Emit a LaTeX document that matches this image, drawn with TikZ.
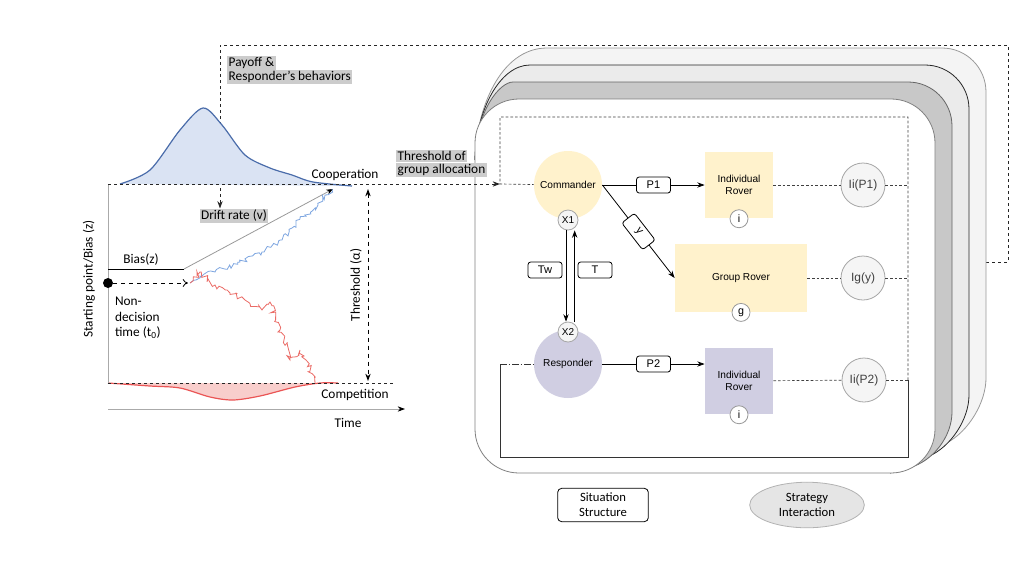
\documentclass[tikz,border=0pt]{standalone}
\usepackage{fontspec}
\setmainfont{Carlito}
\newfontfamily\helv{Liberation Sans}
\usepackage{tikz}
\usetikzlibrary{shapes,arrows.meta,positioning,calc,decorations.pathmorphing}
\definecolor{coopBlue}{RGB}{74,108,170}
\definecolor{coopFill}{RGB}{218,227,243}
\definecolor{compRed}{RGB}{234,85,85}
\definecolor{compFill}{RGB}{248,206,204}
\definecolor{walkBlue}{RGB}{126,166,224}
\definecolor{walkRed}{RGB}{234,107,102}
\definecolor{cmdYellow}{RGB}{255,242,204}
\definecolor{respPurple}{RGB}{208,206,226}
\definecolor{tagGray}{RGB}{204,204,204}
\definecolor{axisGray}{RGB}{170,170,170}
\definecolor{ballGray}{RGB}{245,245,245}
\definecolor{cardA}{RGB}{244,244,244}
\definecolor{cardB}{RGB}{235,235,235}
\definecolor{cardC}{RGB}{200,200,200}

\begin{document}
\begin{tikzpicture}[x=0.75pt, y=-0.75pt, line width=0.6pt,
    >={Stealth[length=5.5pt,width=4pt]},
    txt/.style={font=\fontsize{10}{12}\selectfont},
    tag/.style={fill=tagGray, inner sep=1pt, font=\fontsize{10}{12}\selectfont},
    agent/.style={circle, minimum size=51pt, inner sep=0pt,
      font=\helv\fontsize{7.6}{9}\selectfont},
    port/.style={circle, draw=gray!70, fill=ballGray, minimum size=15pt,
      inner sep=0pt, font=\helv\fontsize{7.5}{9}\selectfont},
    rover/.style={minimum width=51pt, minimum height=50pt, inner sep=0pt,
      align=center, font=\helv\fontsize{7.6}{9}\selectfont},
    kind/.style={circle, draw=gray!80, fill=white, minimum size=13.5pt,
      inner sep=0pt, font=\helv\fontsize{8}{9}\selectfont},
    payoff/.style={circle, draw=gray!70, fill=ballGray, minimum size=33pt,
      inner sep=0pt, text=black!75, font=\helv\fontsize{9}{10}\selectfont},
    edgelbl/.style={draw, fill=white, rounded corners=2pt, minimum width=25.5pt,
      minimum height=12pt, inner sep=0pt, font=\helv\fontsize{8.3}{9}\selectfont},
    fb/.style={dash pattern=on 2.5pt off 2pt, line width=0.7pt, black!85},
    fbfine/.style={dash pattern=on 2pt off 1.5pt, line width=0.5pt, black!75},
    walk/.style={decorate, decoration={random steps, segment length=2pt, amplitude=2.2pt}},
    card/.style={rounded corners=33pt, line width=0.6pt}
  ]
  \useasboundingbox (0,0) rectangle (1024,576);

  % Outer feedback loop (behind the cards)
  \coordinate (oe) at (908,262);
  \coordinate (oc1) at (1008,262);
  \coordinate (oc2) at (1008,45);
  \coordinate (po) at (220,45);
  \node[tag] (drift) at (234,216) {Drift rate (v)};
  \draw[fb, ->] (oe) -- (oc1) -- (oc2) -- (po) -- (drift.north -| po);
  \node[tag, anchor=west] (pay1) at (227,63) {Payoff \&};
  \node[tag, anchor=west] (pay2) at (227,77) {Responder’s behaviors};

  % Stacked cards
  \foreach \d/\f/\c in {51/cardA/gray!80, 34/cardB/black!85, 17/cardC/black!60}{
    \draw[card, fill=\f, draw=\c] (475,160) .. controls (476,110) and (500,99-\d)
      .. (540+\d,99-\d) -- (935+\d,99-\d) -- (935+\d,473-\d) -- (890,473);
  }
  \draw[card, fill=white, draw=gray] (475,99) rectangle (935,473);

  % Drift diffusion model (left)
  \fill[coopFill] plot[smooth] coordinates {(120,184) (150,170) (180,130) (203,108)
    (222,125) (245,155) (270,168) (292,175) (313,182) (352,186)} -- cycle;
  \draw[coopBlue, line width=0.9pt] plot[smooth] coordinates {(120,184) (150,170)
    (180,130) (203,108) (222,125) (245,155) (270,168) (292,175) (313,182) (352,186)};
  \fill[compFill] plot[smooth] coordinates {(108,383) (150,386) (180,388) (210,397)
    (233,400) (260,396) (295,387) (320,383) (338,383)} -- cycle;
  \draw[compRed, line width=0.9pt] plot[smooth] coordinates {(108,383) (150,386)
    (180,388) (210,397) (233,400) (260,396) (295,387) (320,383) (338,383)};

  \coordinate (up0) at (108,184);
  \coordinate (lo0) at (108,383);
  \coordinate (lo1) at (395,383);
  \coordinate (cin) at (500,184);
  \draw[axisGray] (up0) -- (lo0);
  \coordinate (ta0) at (108,409);
  \coordinate (ta1) at (405,409);
  \draw[axisGray, -{Stealth[black,length=5.5pt,width=4pt]}] (ta0) -- (ta1);
  \draw[fb] (lo0) -- (lo1);
  \draw[fb, ->] (up0) -- (cin);

  \coordinate (thrTop) at (368,189);
  \coordinate (thrBot) at (368,381);
  \draw[dashed, <->, line width=0.7pt] (thrTop) -- (thrBot);
  \node[txt, rotate=90] (thr) at (356,285) {Threshold (α)};
  \node[txt, rotate=90] (axz) at (89,279) {Starting point/Bias (z)};
  \node[txt] (coop) at (345,175) {Cooperation};
  \node[txt] (comp) at (355,395) {Competition};
  \node[txt] (time) at (348,423) {Time};

  % Bias, starting point and drift
  \coordinate (b0) at (108,269);
  \coordinate (b1) at (184,269);
  \coordinate (hit) at (333,189);
  \draw (b0) -- (b1);
  \draw[gray!80, -{Stealth[black,length=5pt,width=4pt]}] (b1) -- (hit);
  \node[txt] (bias) at (141,260) {Bias(z)};
  \node[circle, fill=black, minimum size=7.5pt, inner sep=0pt] (z0) at (108,283) {};
  \coordinate (t0) at (188,283);
  \draw[dashed, -{To[length=4pt,width=6pt]}] (z0) -- (t0);
  \node[anchor=west, align=left, inner sep=2pt, font=\fontsize{10}{11.6}\selectfont]
    (ndt) at (112,318) {Non-\\decision\\time (t\textsubscript{0})};

  % Random walks
  \pgfmathsetseed{11}
  \draw[walkBlue, walk]
    (190,283) -- (200,276) -- (215,272) -- (240,262) -- (262,252) -- (282,240)
    -- (292,228) -- (305,215) -- (318,205) -- (325,195) -- (332,189);
  \draw[walkRed, walk]
    (190,283) -- (200,272) -- (215,285) -- (230,293) -- (245,300) -- (262,310)
    -- (270,302) -- (280,330) -- (290,360) -- (300,350) -- (306,360) -- (315,383);
  \node[tag, anchor=west] (thg1) at (396,156) {Threshold of};
  \node[tag, anchor=west] (thg2) at (396,170) {group allocation};

  % Situation structure (right)
  \node[agent, fill=cmdYellow] (cmd) at (568,185) {Commander};
  \node[agent, fill=respPurple] (resp) at (568,364) {Responder};
  \node[port] (x1) at (568,220) {X1};
  \node[port] (x2) at (568,332) {X2};
  \node[rover, fill=cmdYellow] (rov1) at (739,185) {Individual\\Rover};
  \node[rover, fill=cmdYellow, minimum width=99pt, minimum height=51pt] (grp) at (741,278) {Group Rover};
  \node[rover, fill=respPurple] (rov2) at (739,381) {Individual\\Rover};
  \node[kind] (k1) at (rov1.south) {i};
  \node[kind] (kg) at (grp.south) {g};
  \node[kind] (k2) at (rov2.south) {i};
  \node[payoff] (ii1) at (863,185) {Ii(P1)};
  \node[payoff] (ig) at (863,278) {Ig(y)};
  \node[payoff] (ii2) at (864,380) {Ii(P2)};

  \draw[->] (cmd) -- node[edgelbl] (p1) {P1} (rov1);
  \draw[->] (cmd.east) -- node[edgelbl, sloped] (yl) {y} (grp.west);
  \draw[->] (resp) -- node[edgelbl] (p2) {P2} (resp -| rov2.west);
  \draw[->] ([xshift=-1.5pt]x1.south) -- ([xshift=-1.5pt]x2.north);
  \draw[->] ([xshift=5pt]x2.north) -- ([xshift=5pt]x1.south);
  \node[edgelbl] (tw) at (545,270) {Tw};
  \node[edgelbl] (tt) at (595,270) {T};

  % Inner feedback loop
  \coordinate (rt) at (908,117);
  \coordinate (lt) at (500,117);
  \coordinate (rb) at (908,457);
  \coordinate (lb) at (500,457);
  \draw[fbfine] (rov1) -- (ii1);
  \draw[fbfine] (grp) -- (ig);
  \draw[fbfine] (rov2) -- (ii2);
  \draw[fbfine] (ii1) -- (ii1 -| rt);
  \draw[fbfine] (ig) -- (ig -| rt);
  \draw[fbfine] (ii2) -- (ii2 -| rt);
  \draw[fbfine] (ii2 -| rt) -- (rt) -- (lt) -- (cin) -- (cmd);
  \draw[line width=0.5pt, black!80] (ii2 -| rt) -- (rb) -- (lb) -- (lb |- resp);
  \draw[line width=0.5pt, black!80, dash pattern=on 5pt off 1.5pt on 1pt off 1.5pt]
    (lb |- resp) -- (resp);

  % Legend
  \node[draw, rounded corners=3pt, minimum width=68pt, minimum height=25pt,
    align=center, font=\fontsize{9.5}{11.25}\selectfont] (sit) at (603,505) {Situation\\Structure};
  \node[ellipse, draw=gray!60, fill=gray!20, minimum width=86pt, minimum height=34pt,
    align=center, font=\fontsize{9.5}{11.25}\selectfont] (strat) at (807,505) {Strategy\\Interaction};
\end{tikzpicture}
\end{document}
